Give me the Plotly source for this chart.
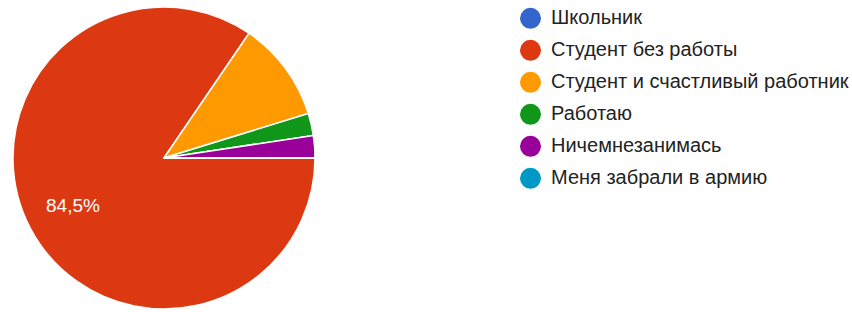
import math
import plotly.graph_objects as go

# Data
labels = ["Школьник", "Студент без работы", "Студент и счастливый работник",
          "Работаю", "Ничемнезанимась", "Меня забрали в армию"]
counts = [0, 71, 9, 2, 2, 0]
colors = ["#3366cc", "#dc3912", "#ff9900", "#109618", "#990099", "#0099c6"]

W, H = 852, 312
cx, cy, r = 164, 158, 151  # pie center / radius in px (from top-left)
FONT = "Liberation Sans, Arial, sans-serif"

total = sum(counts)

fig = go.Figure()
fig.add_trace(go.Pie(
    labels=labels,
    values=counts,
    sort=False,
    direction="clockwise",
    rotation=90,
    marker=dict(colors=colors, line=dict(color="white", width=1.5)),
    textinfo="none",
    hoverinfo="label+value+percent",
    showlegend=False,
    domain=dict(x=[(cx - r) / W, (cx + r) / W],
                y=[(H - cy - r) / H, (H - cy + r) / H]),
))

annotations = []
# Slice percentage labels (only for big slices), placed at mid-angle
cum = 0
for c in counts:
    frac = c / total
    if frac >= 0.15:
        theta = math.radians(90 + 360 * (cum + frac / 2))
        px = cx + 0.68 * r * math.sin(theta)
        py = cy - 0.68 * r * math.cos(theta)
        txt = f"{frac * 100:.1f}%".replace(".", ",")
        annotations.append(dict(x=px / W, y=(H - py) / H, xref="paper", yref="paper",
                                text=txt, showarrow=False, xanchor="center",
                                yanchor="middle",
                                font=dict(family=FONT, size=19, color="white")))
    cum += frac

# Custom legend with round markers
shapes = []
lx, ly0, dy, mr = 530.5, 18.3, 32, 10.5
for i, (lab, col) in enumerate(zip(labels, colors)):
    y = ly0 + dy * i
    shapes.append(dict(type="circle", xref="paper", yref="paper",
                       x0=(lx - mr) / W, x1=(lx + mr) / W,
                       y0=(H - y - mr) / H, y1=(H - y + mr) / H,
                       fillcolor=col, line=dict(width=0)))
    annotations.append(dict(x=549 / W, y=(H - y + 1.5) / H, xref="paper", yref="paper",
                            text=lab, showarrow=False, xanchor="left", yanchor="middle",
                            font=dict(family=FONT, size=20, color="#222222")))

fig.update_layout(
    width=W, height=H,
    margin=dict(l=0, r=0, t=0, b=0),
    paper_bgcolor="white",
    plot_bgcolor="white",
    separators=", ",
    shapes=shapes,
    annotations=annotations,
)

fig.write_html("out.html", config={"displayModeBar": False},
               post_script="document.body.style.margin='0';")
